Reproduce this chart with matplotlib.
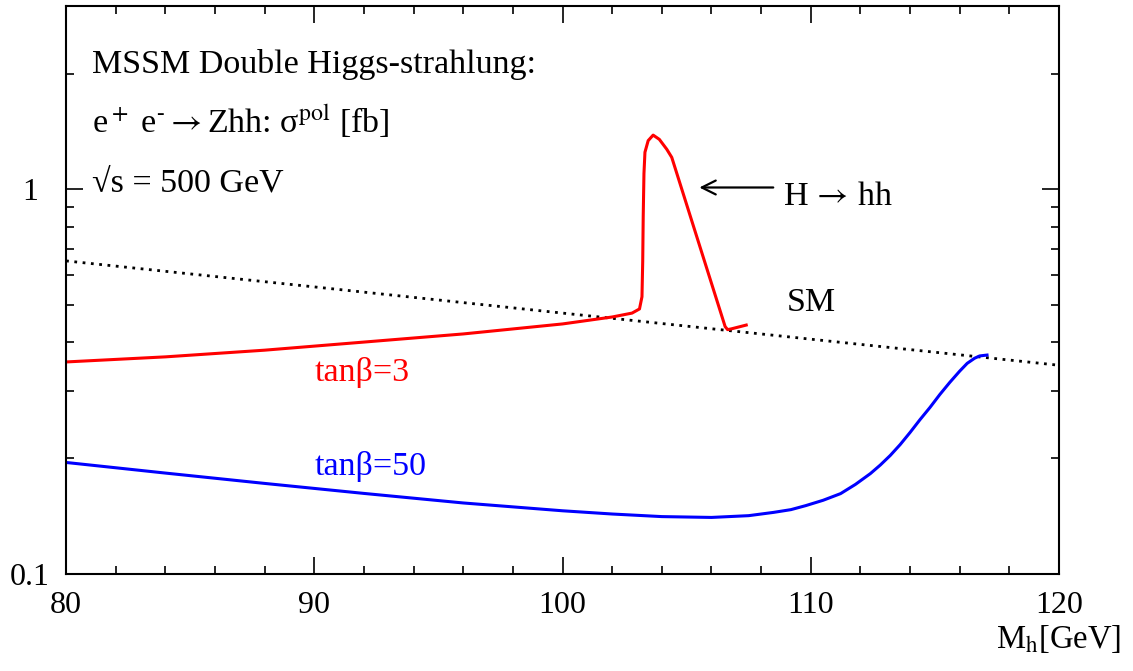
import matplotlib.pyplot as plt
from matplotlib.ticker import FixedLocator, NullFormatter, MultipleLocator

plt.rcParams['font.family'] = ['Liberation Serif', 'DejaVu Serif']
plt.rcParams['mathtext.fontset'] = 'stix'

# SM reference (dotted)
mh_sm = [80, 90, 100, 110, 120]
sigma_sm = [0.652, 0.558, 0.477, 0.408, 0.349]

# MSSM tan(beta)=3, with H -> hh resonance
mh_tb3 = [80, 84, 88, 92, 96, 100, 102, 102.8, 103.1, 103.2, 103.23, 103.25, 103.28,
          103.32, 103.45, 103.65, 103.9, 104.2, 104.4, 106.55, 106.65, 106.8, 107.4]
sigma_tb3 = [0.356, 0.367, 0.382, 0.401, 0.421, 0.447, 0.466, 0.477, 0.489, 0.526, 0.65,
             0.85, 1.1, 1.25, 1.34, 1.385, 1.35, 1.272, 1.212, 0.44, 0.432, 0.434, 0.444]

# MSSM tan(beta)=50
mh_tb50 = [80, 84, 88, 92, 96, 100, 102, 104, 106, 107.5, 108.5, 109.2, 109.8, 110.5,
           111.2, 111.8, 112.4, 112.8, 113.2, 113.6, 114.0, 114.4, 114.8, 115.2, 115.6,
           116.0, 116.3, 116.6, 116.8, 117.1]
sigma_tb50 = [0.195, 0.183, 0.172, 0.162, 0.153, 0.146, 0.1432, 0.1410, 0.1403, 0.1418,
              0.1446, 0.147, 0.1506, 0.1555, 0.1618, 0.171, 0.1824, 0.192, 0.2033, 0.217,
              0.2334, 0.252, 0.271, 0.293, 0.315, 0.337, 0.353, 0.364, 0.369, 0.371]

fig = plt.figure(figsize=(11.33, 6.71), dpi=100)
ax = fig.add_axes([0.0583, 0.1446, 0.8764, 0.8464])

ax.plot(mh_sm, sigma_sm, color='black', lw=2.0, linestyle=(0, (1, 2)))
ax.plot(mh_tb3, sigma_tb3, color='red', lw=2.2)
ax.plot(mh_tb50, sigma_tb50, color='blue', lw=2.2)

ax.set_yscale('log')
ax.set_xlim(80, 120)
ax.set_ylim(0.1, 3)

ax.xaxis.set_major_locator(MultipleLocator(10))
ax.xaxis.set_minor_locator(MultipleLocator(2))
ax.yaxis.set_major_locator(FixedLocator([0.1, 1]))
ax.yaxis.set_minor_locator(FixedLocator([0.2, 0.3, 0.4, 0.5, 0.6, 0.7, 0.8, 0.9, 2, 3]))
ax.yaxis.set_minor_formatter(NullFormatter())
ax.set_yticklabels(['0.1', '1'])

ax.tick_params(which='both', direction='in', top=True, right=True, width=1.2, labelsize=23)
ax.tick_params(which='major', length=12)
ax.tick_params(which='minor', length=6)
ax.tick_params(axis='x', pad=12)
ax.tick_params(axis='y', pad=26)
for lab in ax.get_yticklabels():
    lab.set_ha('center')
for s in ax.spines.values():
    s.set_linewidth(1.5)

fs = 24.5
ax.text(81.05, 2.01, 'MSSM Double Higgs-strahlung:', fontsize=fs, va='baseline')
ax.text(81.05, 1.40, 'e$^+$ e$^{\u2010}$$\\rightarrow$Zhh: \u03c3$^{\\mathrm{pol}}$ [fb]',
        fontsize=fs, va='baseline')
ax.text(81.05, 0.988, '\u221as = 500 GeV', fontsize=fs, va='baseline')

ax.annotate('', xy=(105.4, 1.012), xytext=(108.6, 1.012),
            arrowprops=dict(arrowstyle='->', lw=1.6, color='black', mutation_scale=25))
ax.text(108.88, 0.96, 'H$\\,\\rightarrow\\,$hh', fontsize=fs, va='center')
ax.text(109.04, 0.507, 'SM', fontsize=fs, va='center')
ax.text(90.0, 0.335, 'tan\u03b2=3', fontsize=fs, va='center', color='red')
ax.text(90.0, 0.19, 'tan\u03b2=50', fontsize=fs, va='center', color='blue')

fig.text(0.9895, 0.034, 'M$_{\\mathrm{h}}$[GeV]', fontsize=23.5, ha='right', va='baseline')

fig.savefig('out.png', dpi=100)
